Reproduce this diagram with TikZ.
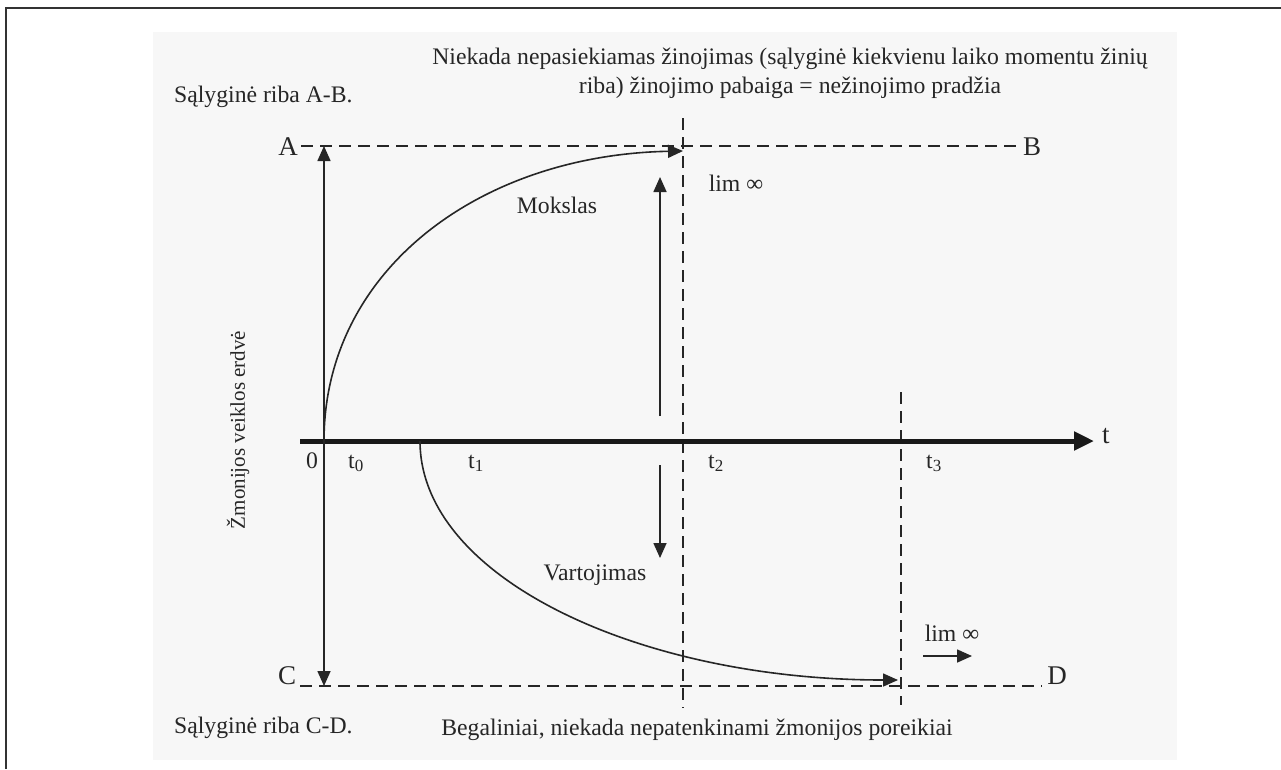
\documentclass[tikz,border=0pt]{standalone}
\usepackage{fontspec}
\setmainfont{Liberation Serif}
\usetikzlibrary{arrows.meta}
\newcommand{\sbs}[1]{\raisebox{-0.35ex}{\fontsize{17}{17}\selectfont #1}}
\begin{document}
\begin{tikzpicture}[x=1pt,y=-1pt,
  txt/.style={inner sep=0pt,font=\fontsize{23.7}{28}\selectfont,text=black!85},
  big/.style={inner sep=0pt,font=\fontsize{27}{30}\selectfont,text=black!85},
  dline/.style={line width=1.5pt,dash pattern=on 12pt off 7pt,black!85},
  thin/.style={line width=1.6pt,black!85},
  tip/.style={-{Triangle[length=15pt,width=13pt]}},
  dtip/.style={{Triangle[length=15pt,width=13pt]}-{Triangle[length=15pt,width=13pt]}}]
\useasboundingbox (0,0) rectangle (1281,769);
% background and frame
\fill[black!3] (153,32) rectangle (1177,760);
\draw[line width=1.2pt,black!80] (6,769) -- (6,8) -- (1281,8);
% coordinates
\coordinate (a0) at (324,146);
\coordinate (c0) at (324,686);
\coordinate (o) at (324,441);
\coordinate (ab) at (301,146);
\coordinate (ae) at (1021,146);
\coordinate (cb) at (300,686);
\coordinate (ce) at (1042,686);
\coordinate (v2t) at (683,118);
\coordinate (v2b) at (683,708);
\coordinate (v3t) at (901,392);
\coordinate (v3b) at (901,705);
\coordinate (xs) at (300,441);
\coordinate (xe) at (1094,441);
\coordinate (mEnd) at (683,151);
\coordinate (vS) at (420,441);
\coordinate (vEnd) at (898,680);
\coordinate (up1) at (660,416);
\coordinate (up2) at (660,177);
\coordinate (dn1) at (660,465);
\coordinate (dn2) at (660,558);
\coordinate (r1) at (923,656);
\coordinate (r2) at (972,656);
% texts
\node[txt,anchor=base] (top1) at (790,64) {Niekada nepasiekiamas žinojimas (sąlyginė kiekvienu laiko momentu žinių};
\node[txt,anchor=base] (top2) at (790,93) {riba) žinojimo pabaiga = nežinojimo pradžia};
\node[txt,anchor=base west] (sab) at (174,102) {Sąlyginė riba A-B.};
\node[txt,anchor=base west] (scd) at (174,733) {Sąlyginė riba C-D.};
\node[txt,anchor=base] (beg) at (697,735) {Begaliniai, niekada nepatenkinami žmonijos poreikiai};
\node[big,anchor=base] (A) at (288,155) {A};
\node[big,anchor=base] (B) at (1032,155) {B};
\node[big,anchor=base] (C) at (287,684) {C};
\node[big,anchor=base] (D) at (1057,684) {D};
\node[txt] (lim1) at (736,183) {lim ∞};
\node[txt] (lim2) at (952,633) {lim ∞};
\node[txt] (mok) at (557,205) {Mokslas};
\node[txt] (var) at (595,575) {Vartojimas};
\node[txt,anchor=base] (l0) at (312,468) {0};
\node[txt,anchor=base west] (lt0) at (348,468) {t\sbs{0}};
\node[txt,anchor=base west] (lt1) at (468,468) {t\sbs{1}};
\node[txt,anchor=base west] (lt2) at (708,468) {t\sbs{2}};
\node[txt,anchor=base west] (lt3) at (926,468) {t\sbs{3}};
\node[big,anchor=west] (lt) at (1102,436) {t};
\node[inner sep=0pt,font=\fontsize{21}{24}\selectfont,text=black!85,rotate=90] (zm) at (238,430) {Žmonijos veiklos erdvė};
% dashed lines
\draw[dline] (ab) -- (ae);
\draw[dline] (cb) -- (ce);
\draw[dline] (v2t) -- (v2b);
\draw[dline] (v3t) -- (v3b);
% axis
\draw[line width=5pt,black!90,-{Triangle[length=20pt,width=18pt]}] (xs) -- (xe);
% vertical double arrow
\draw[thin,dtip] (a0) -- (c0);
% curves
\draw[thin,tip] (o) .. controls (324,270) and (480,155) .. (mEnd);
\draw[thin,tip] (vS) .. controls (420,578) and (640,680) .. (vEnd);
% small arrows
\draw[thin,tip] (up1) -- (up2);
\draw[thin,tip] (dn1) -- (dn2);
\draw[thin,tip] (r1) -- (r2);
\end{tikzpicture}
\end{document}
